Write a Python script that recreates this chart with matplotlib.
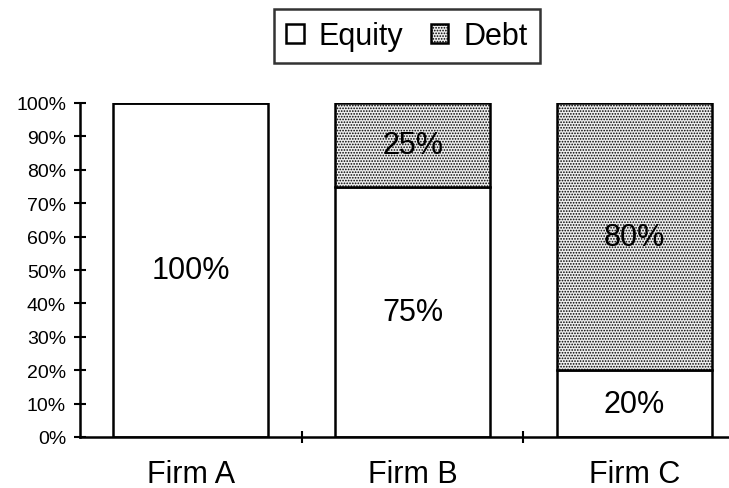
import matplotlib.pyplot as plt
import matplotlib.ticker as mticker
from matplotlib.patches import Patch

firms = ["Firm A", "Firm B", "Firm C"]
equity = [100, 75, 20]
debt = [0, 25, 80]

plt.rcParams["font.family"] = ["Liberation Sans", "DejaVu Sans"]
plt.rcParams["hatch.color"] = "#b0b0b0"
plt.rcParams["hatch.linewidth"] = 0.8

fig = plt.figure(figsize=(7.29, 4.89), dpi=100)
ax = fig.add_axes([80 / 729, 51 / 489, 665 / 729, 334 / 489])

x = list(range(len(firms)))
bar_width = 0.70

ax.bar(x, equity, width=bar_width, color="white", edgecolor="black", linewidth=1.8)
ax.bar(x, debt, width=bar_width, bottom=equity, color="#eeeeee",
       edgecolor="black", linewidth=1.8, hatch="......")

# data labels in the middle of each segment
for i in x:
    if equity[i] > 0:
        ax.text(i, equity[i] / 2, f"{equity[i]}%", ha="center", va="center", fontsize=22)
    if debt[i] > 0:
        ax.text(i, equity[i] + debt[i] / 2, f"{debt[i]}%", ha="center", va="center", fontsize=22)

ax.set_xlim(-0.5, 2.5)
ax.set_ylim(0, 100)

# axes styling, excel look
for side in ["top", "right"]:
    ax.spines[side].set_visible(False)
ax.spines["left"].set_linewidth(1.8)
ax.spines["bottom"].set_linewidth(1.8)

ax.yaxis.set_major_locator(mticker.MultipleLocator(10))
ax.yaxis.set_major_formatter(mticker.FuncFormatter(lambda v, p: f"{int(v)}%"))
ax.tick_params(axis="y", direction="inout", length=8, width=1.5, labelsize=14, pad=6)

ax.set_xticks(x)
ax.set_xticklabels(firms)
ax.tick_params(axis="x", which="major", length=0, labelsize=22, pad=16)
ax.set_xticks([0.5, 1.5], minor=True)
ax.tick_params(axis="x", which="minor", direction="inout", length=8, width=1.5)

handles = [
    Patch(facecolor="white", edgecolor="black", linewidth=1.8, label="Equity"),
    Patch(facecolor="#eeeeee", edgecolor="black", linewidth=1.8, hatch="......", label="Debt"),
]
leg = fig.legend(handles=handles, loc="center", bbox_to_anchor=(407 / 729, 1 - 37 / 489),
                 ncol=2, fontsize=22, frameon=True, fancybox=False,
                 handlelength=0.56, handleheight=0.56, handletextpad=0.5,
                 columnspacing=0.9, borderpad=0.4)
leg.get_frame().set_edgecolor("black")
leg.get_frame().set_linewidth(1.8)

fig.savefig("out.png", dpi=100)
